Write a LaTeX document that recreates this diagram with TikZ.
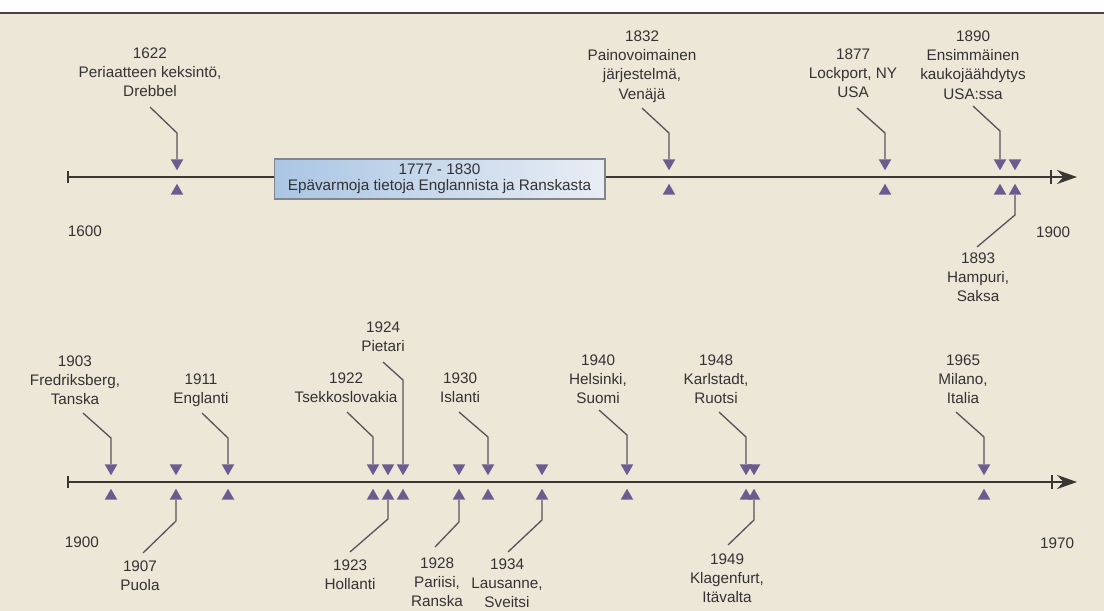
\documentclass[tikz,border=0pt]{standalone}
\usepackage{fontspec}
\setmainfont{Liberation Sans}
\usetikzlibrary{shapes.geometric,arrows.meta,positioning}
\definecolor{paper}{RGB}{237,231,216}
\definecolor{edgegray}{RGB}{70,68,66}
\definecolor{tripurple}{RGB}{106,92,142}
\definecolor{axisgray}{RGB}{58,54,52}
\definecolor{leadgray}{RGB}{88,84,92}
\definecolor{txtgray}{RGB}{52,50,52}
\definecolor{boxleft}{RGB}{170,198,228}
\definecolor{boxmid}{RGB}{72,136,202}
\definecolor{boxright}{RGB}{232,237,244}
\definecolor{boxedge}{RGB}{130,133,140}
\tikzset{
  lbl/.style={align=center, inner sep=0pt, text=txtgray, font=\fontsize{8.7}{11}\selectfont, anchor=north},
  yearlbl/.style={inner sep=0pt, text=txtgray, font=\fontsize{8.7}{11}\selectfont},
  tdown/.style={regular polygon, regular polygon sides=3, shape border rotate=180, fill=tripurple, inner sep=0pt, minimum size=0.29cm},
  tup/.style={regular polygon, regular polygon sides=3, fill=tripurple, inner sep=0pt, minimum size=0.29cm},
  leader/.style={draw=leadgray, line width=0.75pt},
  axisline/.style={draw=axisgray, line width=1.4pt},
  tickmark/.style={draw=axisgray, line width=0.6pt}
}
\begin{document}
\begin{tikzpicture}[x=0.02cm, y=-0.02cm]
    \useasboundingbox (0,0) rectangle (1104,611);
    % paper
    \fill[white] (0,0) rectangle (1104,13);
    \fill[paper] (0,13) rectangle (1104,611);
    \draw[edgegray, line width=1pt] (0,13) -- (1104,13);

    % upper axis 1600 - 1900
    \coordinate (top0) at (68,177);
    \coordinate (top1) at (1077,177);
    \coordinate (topend) at (1051,177);
    \draw[axisline, -{Stealth[length=0.4cm, width=0.28cm]}] (top0) -- (top1);
    \draw[tickmark] (top0) ++(0,-6) -- ++(0,12);
    \draw[tickmark] (topend) ++(0,-7) -- ++(0,14);
    \node[yearlbl] (y1600) at (85,231) {1600};
    \node[yearlbl] (y1900a) at (1053,232) {1900};

    % 1777 - 1830 box
    \node[draw=boxedge, line width=0.6pt, left color=boxleft, middle color=boxmid, right color=boxright,
          minimum width=6.62cm, minimum height=0.8cm, inner sep=0pt, align=center, text=txtgray,
          font=\fontsize{8.7}{9.1}\selectfont] (gap) at (439.5,179) {1777 - 1830\\Epävarmoja tietoja Englannista ja Ranskasta};

    % 1622
    \node[tdown] (d1622) at (177,163) {};
    \node[tup] (u1622) at (177,191) {};
    \node[lbl] (l1622) at (150,47) {1622\\Periaatteen keksintö,\\Drebbel};
    \draw[leader] (d1622.north) -- ++(0,-26) -- ++(-27,-26);
    % 1832
    \node[tdown] (d1832) at (669,163) {};
    \node[tup] (u1832) at (669,191) {};
    \node[lbl] (l1832) at (642,30) {1832\\Painovoimainen\\järjestelmä,\\Venäjä};
    \draw[leader] (d1832.north) -- ++(0,-26) -- ++(-27,-25);
    % 1877
    \node[tdown] (d1877) at (885,163) {};
    \node[tup] (u1877) at (885,191) {};
    \node[lbl] (l1877) at (853,48) {1877\\Lockport, NY\\USA};
    \draw[leader] (d1877.north) -- ++(0,-26) -- ++(-28,-25);
    % 1890
    \node[tdown] (d1890) at (1000,163) {};
    \node[tup] (u1890) at (1000,191) {};
    \node[lbl] (l1890) at (973,30) {1890\\Ensimmäinen\\kaukojäähdytys\\USA:ssa};
    \draw[leader] (d1890.north) -- ++(0,-28) -- ++(-27,-25);
    % 1893
    \node[tdown] (d1893) at (1015,163) {};
    \node[tup] (u1893) at (1015,191) {};
    \node[lbl] (l1893) at (978,252) {1893\\Hampuri,\\Saksa};
    \draw[leader] (u1893.south) -- ++(0,20) -- ++(-38,32);

    % lower axis 1900 - 1970
    \coordinate (bot0) at (68,482);
    \coordinate (bot1) at (1077,482);
    \coordinate (botend) at (1052,482);
    \draw[axisline, -{Stealth[length=0.4cm, width=0.28cm]}] (bot0) -- (bot1);
    \draw[tickmark] (bot0) ++(0,-6) -- ++(0,12);
    \draw[tickmark] (botend) ++(0,-7) -- ++(0,14);
    \node[yearlbl] (y1900b) at (82,542) {1900};
    \node[yearlbl] (y1970) at (1057,543) {1970};

    % 1903
    \node[tdown] (d1903) at (111,468) {};
    \node[tup] (u1903) at (111,496) {};
    \node[lbl] (l1903) at (75,355) {1903\\Fredriksberg,\\Tanska};
    \draw[leader] (d1903.north) -- ++(0,-26) -- ++(-28,-25);
    % 1907
    \node[tdown] (d1907) at (176,468) {};
    \node[tup] (u1907) at (176,496) {};
    \node[lbl] (l1907) at (140,560) {1907\\Puola};
    \draw[leader] (u1907.south) -- ++(0,21) -- ++(-33,32);
    % 1911
    \node[tdown] (d1911) at (228,468) {};
    \node[tup] (u1911) at (228,496) {};
    \node[lbl] (l1911) at (201,373) {1911\\Englanti};
    \draw[leader] (d1911.north) -- ++(0,-26) -- ++(-26,-25);
    % 1922
    \node[tdown] (d1922) at (373,468) {};
    \node[tup] (u1922) at (373,496) {};
    \node[lbl] (l1922) at (346,372) {1922\\Tsekkoslovakia};
    \draw[leader] (d1922.north) -- ++(0,-27) -- ++(-26,-25);
    % 1923
    \node[tdown] (d1923) at (388,468) {};
    \node[tup] (u1923) at (388,496) {};
    \node[lbl] (l1923) at (350,559) {1923\\Hollanti};
    \draw[leader] (u1923.south) -- ++(0,19) -- ++(-38,33);
    % 1924
    \node[tdown] (d1924) at (403,468) {};
    \node[tup] (u1924) at (403,496) {};
    \node[lbl] (l1924) at (383,321) {1924\\Pietari};
    \draw[leader] (d1924.north) -- ++(0,-84) -- ++(-20,-18);
    % 1928
    \node[tdown] (d1928) at (459,468) {};
    \node[tup] (u1928) at (459,496) {};
    \node[lbl] (l1928) at (437,557) {1928\\Pariisi,\\Ranska};
    \draw[leader] (u1928.south) -- ++(0,22) -- ++(-24,25);
    % 1930
    \node[tdown] (d1930) at (488,468) {};
    \node[tup] (u1930) at (488,496) {};
    \node[lbl] (l1930) at (460,372) {1930\\Islanti};
    \draw[leader] (d1930.north) -- ++(0,-27) -- ++(-29,-25);
    % 1934
    \node[tdown] (d1934) at (542,468) {};
    \node[tup] (u1934) at (542,496) {};
    \node[lbl] (l1934) at (507,558) {1934\\Lausanne,\\Sveitsi};
    \draw[leader] (u1934.south) -- ++(0,20) -- ++(-34,32);
    % 1940
    \node[tdown] (d1940) at (627,468) {};
    \node[tup] (u1940) at (627,496) {};
    \node[lbl] (l1940) at (598,354) {1940\\Helsinki,\\Suomi};
    \draw[leader] (d1940.north) -- ++(0,-29) -- ++(-28,-25);
    % 1948
    \node[tdown] (d1948) at (746,468) {};
    \node[tup] (u1948) at (746,496) {};
    \node[lbl] (l1948) at (716,354) {1948\\Karlstadt,\\Ruotsi};
    \draw[leader] (d1948.north) -- ++(0,-27) -- ++(-27,-25);
    % 1949
    \node[tdown] (d1949) at (754,468) {};
    \node[tup] (u1949) at (754,496) {};
    \node[lbl] (l1949) at (727,553) {1949\\Klagenfurt,\\Itävalta};
    \draw[leader] (u1949.south) -- ++(0,20) -- ++(-26,25);
    % 1965
    \node[tdown] (d1965) at (984,468) {};
    \node[tup] (u1965) at (984,496) {};
    \node[lbl] (l1965) at (963,354) {1965\\Milano,\\Italia};
    \draw[leader] (d1965.north) -- ++(0,-27) -- ++(-28,-25);
\end{tikzpicture}
\end{document}
